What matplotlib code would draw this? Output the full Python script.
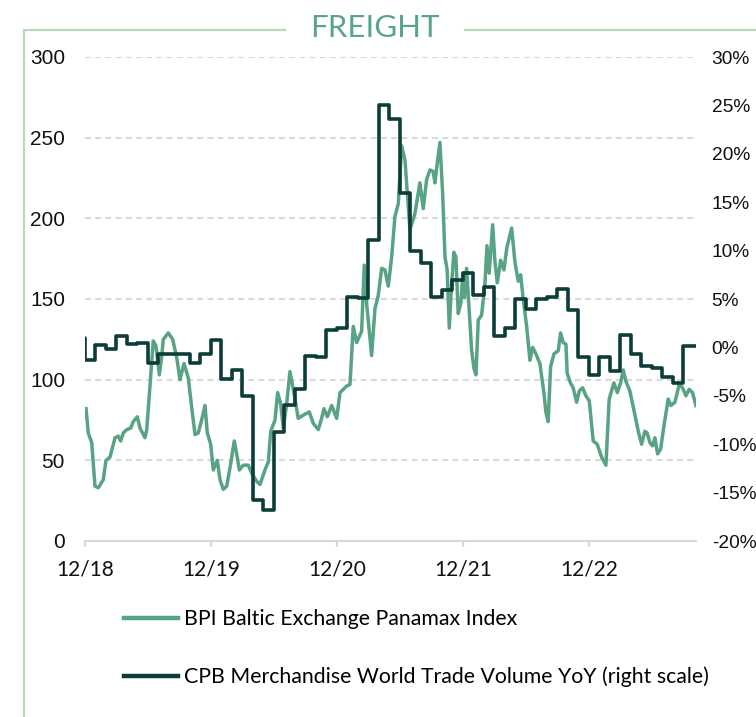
import numpy as np
import matplotlib
matplotlib.use("Agg")
import matplotlib.pyplot as plt
from matplotlib.lines import Line2D
from matplotlib.ticker import FuncFormatter

# ---------------- data ----------------
# x positions are months since Dec 2018
x_tick_months = [0, 12, 24, 36, 48]
x_tick_labels = ["12/18", "12/19", "12/20", "12/21", "12/22"]
x_end_month = 58.2

bpi_month = [0.10, 0.31, 0.64, 0.95, 1.27, 1.74, 2.00, 2.38, 2.86, 3.17, 3.40, 3.65, 3.97,
             4.35, 4.60, 4.98, 5.24, 5.71, 5.88, 6.19, 6.50, 6.76, 7.08, 7.30, 7.46, 7.93,
             8.35, 8.73, 9.05, 9.43, 9.84, 10.16, 10.48, 10.79, 11.11, 11.43, 11.65, 11.97,
             12.22, 12.60, 12.86, 13.17, 13.50, 13.88, 14.22, 14.45, 14.70, 15.08, 15.55,
             15.88, 16.35, 16.67, 17.14, 17.46, 17.69, 18.10, 18.35, 18.64, 18.89, 19.21,
             19.52, 19.84, 20.31, 20.79, 21.36, 21.74, 22.22, 22.54, 22.76, 23.08, 23.50,
             23.97, 24.29, 24.92, 25.24, 25.55, 25.88, 26.35, 26.60, 26.83, 27.30, 27.62,
             27.93, 28.26, 28.57, 28.89, 29.21, 29.52, 29.84, 30.16, 30.48, 30.95, 31.43,
             31.90, 32.22, 32.54, 32.86, 33.17, 33.33, 33.55, 33.81, 34.07, 34.29, 34.50,
             34.70, 34.92, 35.14, 35.33, 35.55, 35.81, 36.00, 36.14, 36.35, 36.60, 36.83,
             37.05, 37.24, 37.46, 37.78, 38.10, 38.29, 38.50, 38.83, 39.05, 39.27, 39.59,
             39.90, 40.19, 40.64, 40.95, 41.27, 41.50, 41.74, 42.07, 42.38, 42.64, 42.95,
             43.33, 43.71, 43.90, 44.12, 44.35, 44.67, 45.08, 45.30, 45.55, 45.81, 45.93,
             46.24, 46.50, 46.83, 47.08, 47.40, 47.71, 48.03, 48.41, 48.79, 49.21, 49.62,
             49.93, 50.38, 50.70, 51.02, 51.27, 51.52, 51.90, 52.29, 52.70, 53.02, 53.33,
             53.55, 53.81, 54.07, 54.29, 54.54, 54.83, 55.14, 55.55, 55.81, 56.19, 56.60,
             56.92, 57.24, 57.55, 57.87, 58.19]
bpi_value = [82, 67, 61, 34, 33, 38, 50, 52, 64, 65, 62, 67, 69,
             70, 74, 77, 70, 64, 69, 96, 124, 121, 103, 114, 125, 129,
             125, 114, 100, 110, 101, 83, 66, 67, 75, 84, 67, 60,
             44, 50, 38, 32, 34, 48, 62, 54, 44, 47, 47,
             42, 37, 35, 44, 49, 68, 75, 92, 85, 70, 85,
             105, 94, 76, 78, 80, 73, 69, 76, 82, 77, 84,
             76, 92, 96, 97, 133, 123, 130, 171, 147, 115, 144,
             152, 169, 168, 158, 176, 201, 209, 245, 236, 193, 203,
             222, 206, 224, 230, 229, 222, 234, 247, 215, 176, 168,
             132, 159, 179, 176, 141, 148, 166, 151, 169, 143, 118,
             107, 103, 137, 140, 160, 183, 166, 196, 173, 160, 174,
             168, 182, 194, 173, 161, 165, 150, 133, 112, 120, 116,
             110, 92, 80, 74, 108, 116, 118, 129, 123, 122, 104,
             98, 95, 86, 93, 95, 90, 87, 62, 60, 52, 47,
             88, 98, 92, 98, 106, 99, 93, 81, 68, 60, 68,
             67, 61, 59, 64, 54, 57, 71, 88, 84, 86, 97,
             95, 90, 94, 92, 84]

# CPB monthly YoY (%), first value is Nov 2018
cpb_first_month = -1
cpb_value = [0.95, -1.3, 0.25, -0.2, 1.2, 0.4, 0.5, -1.6, -0.7, -0.7, -0.7, -1.6, -0.7,
             0.76, -3.3, -2.3, -5.0, -15.8, -16.8, -8.7, -5.95, -4.3, -0.86, -1.0, 1.8,
             2.0, 5.25, 5.1, 11.1, 25.05, 23.6, 16.0, 10.0, 8.75, 5.2, 5.9, 7.0, 7.65,
             5.4, 6.2, 1.2, 2.0, 5.05, 4.0, 5.05, 5.2, 6.0, 3.9, -0.96, -2.8, -1.0,
             -2.45, 1.3, -0.7, -1.9, -2.15, -3.1, -3.7, 0.1]

left_ticks = [0, 50, 100, 150, 200, 250, 300]
right_ticks = [-20, -15, -10, -5, 0, 5, 10, 15, 20, 25, 30]

title = "FREIGHT"
label_bpi = "BPI Baltic Exchange Panamax Index"
label_cpb = "CPB Merchandise World Trade Volume YoY (right scale)"

# ---------------- style ----------------
C_BPI = "#58a383"
C_CPB = "#0c3d38"
C_GRID = "#d9d9d9"
C_FRAME = "#bcd8bc"
C_TITLE = "#5aa587"
W, H = 756, 717

fig = plt.figure(figsize=(W / 100, H / 100), dpi=100)
ax = fig.add_axes([85 / W, 176 / H, 611 / W, 484 / H])
ax2 = ax.twinx()

ax.plot(bpi_month, bpi_value, color=C_BPI, lw=2.5, solid_joinstyle="round", zorder=3)

cpb_x = list(cpb_first_month + np.arange(len(cpb_value))) + [x_end_month]
cpb_y = cpb_value + [cpb_value[-1]]
ax2.plot(cpb_x, cpb_y, color=C_CPB, lw=2.6, drawstyle="steps-post", zorder=4)

ax.set_xlim(0, x_end_month)
ax.set_ylim(0, 300)
ax2.set_ylim(-20, 30)

ax.set_yticks(left_ticks)
ax2.set_yticks(right_ticks)
ax2.yaxis.set_major_formatter(FuncFormatter(lambda v, p: f"{v:.0f}%"))
ax.set_xticks(x_tick_months)
ax.set_xticklabels(x_tick_labels)

ax.yaxis.grid(True, linestyle=(0, (2.8, 2.1)), color=C_GRID, lw=1.5)
ax.set_axisbelow(True)

for a in (ax, ax2):
    for s in a.spines.values():
        s.set_visible(False)
ax.spines["bottom"].set_visible(True)
ax.spines["bottom"].set_color(C_GRID)
ax.spines["bottom"].set_linewidth(1.5)

ax.tick_params(axis="y", length=0, pad=14.4)
ax2.tick_params(axis="y", length=0, pad=11.3)
ax.tick_params(axis="x", direction="out", length=4.5, width=1.5, color=C_GRID, pad=9)

for lab in ax.get_yticklabels():
    lab.set_fontfamily("Liberation Sans")
    lab.set_fontsize(15)
    lab.set_color("#111111")
for lab in ax2.get_yticklabels():
    lab.set_fontfamily("Liberation Sans")
    lab.set_fontsize(13.8)
    lab.set_color("#111111")
for lab in ax.get_xticklabels():
    lab.set_fontfamily("Lato")
    lab.set_fontsize(15)
    lab.set_color("#111111")

# frame lines
fy = 1 - 30 / H
fig.add_artist(Line2D([24 / W, 24 / W], [0, fy], color=C_FRAME, lw=1.6))
fig.add_artist(Line2D([24 / W, 285 / W], [fy, fy], color=C_FRAME, lw=1.6))
fig.add_artist(Line2D([465 / W, 1], [fy, fy], color=C_FRAME, lw=1.6))
fig.text(375 / W, 1 - 37 / H, title, ha="center", va="baseline",
         fontfamily="Lato", fontsize=22.5, color=C_TITLE)

handles = [Line2D([], [], color=C_BPI, lw=3.2), Line2D([], [], color=C_CPB, lw=3.2)]
fig.legend(handles, [label_bpi, label_cpb], loc="upper left",
           bbox_to_anchor=(124 / W, 1 - 609 / H), frameon=False,
           prop={"family": "Lato", "size": 15.3}, handlelength=2.55,
           handletextpad=0.25, labelspacing=1.78, borderpad=0, borderaxespad=0)

fig.savefig("out.png", dpi=100)
